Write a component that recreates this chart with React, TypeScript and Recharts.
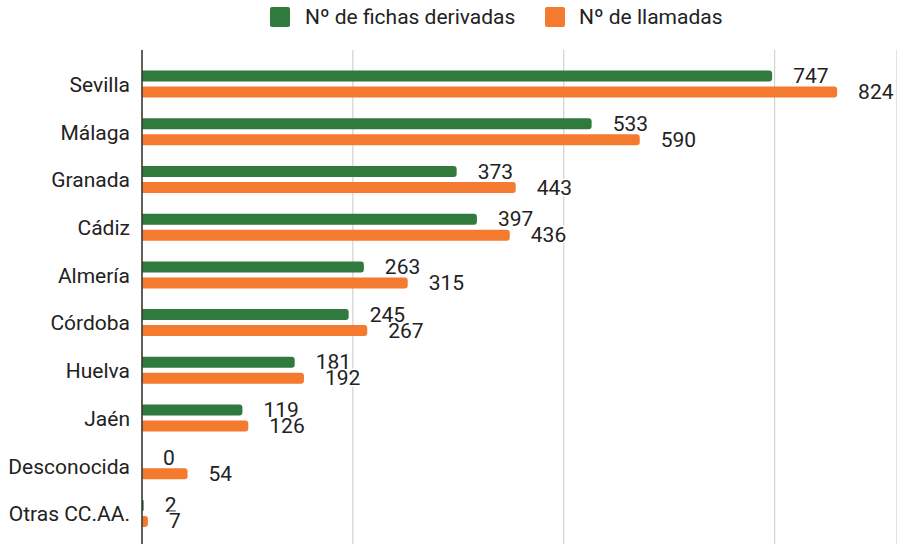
import React from 'react';
import { BarChart, Bar, XAxis, YAxis, CartesianGrid, Legend, LabelList } from 'recharts';

const categories = ['Sevilla', 'Málaga', 'Granada', 'Cádiz', 'Almería', 'Córdoba', 'Huelva', 'Jaén', 'Desconocida', 'Otras CC.AA.'];
const fichas = [747, 533, 373, 397, 263, 245, 181, 119, 0, 2];
const llamadas = [824, 590, 443, 436, 315, 267, 192, 126, 54, 7];
const gridTicks = [0, 250, 500, 750];

const GREEN = '#317a3d';
const ORANGE = '#f37a2e';
const FONT = 'Roboto, "Noto Sans", sans-serif';

const data = categories.map((name, i) => ({ name, fichas: fichas[i], llamadas: llamadas[i] }));

const ValueLabel = (props: any) => {
  const vb = props.viewBox || {};
  const x = Number.isFinite(props.x) ? props.x : vb.x;
  const y = Number.isFinite(props.y) ? props.y : vb.y;
  const width = Number.isFinite(props.width) ? props.width : (Number.isFinite(vb.width) ? vb.width : 0);
  const height = Number.isFinite(props.height) ? props.height : (Number.isFinite(vb.height) ? vb.height : 0);
  const value = props.value;
  if (!Number.isFinite(x) || !Number.isFinite(y)) return null;
  const w = props.value === 0 ? 0 : width;
  return (
    <text
      x={x + w + 21}
      y={y + height / 2}
      dominantBaseline="central"
      textAnchor="start"
      fontFamily={FONT}
      fontSize={21}
      fill="#222"
      stroke="#fff"
      strokeWidth={3}
      paintOrder="stroke"
    >
      {String(value)}
    </text>
  );
};

const LegendContent = () => (
  <div style={{ position: 'relative', height: 34, fontFamily: FONT, fontSize: 21, color: '#222' }}>
    <div style={{ position: 'absolute', left: 270, top: 7, width: 20, height: 20, background: GREEN, borderRadius: 2 }} />
    <div style={{ position: 'absolute', left: 305, top: 3, lineHeight: '28px', whiteSpace: 'nowrap' }}>Nº de fichas derivadas</div>
    <div style={{ position: 'absolute', left: 545, top: 7, width: 20, height: 20, background: ORANGE, borderRadius: 2 }} />
    <div style={{ position: 'absolute', left: 579, top: 3, lineHeight: '28px', whiteSpace: 'nowrap' }}>Nº de llamadas</div>
  </div>
);

export default function App() {
  return (
    <div style={{ position: 'absolute', left: 0, top: 0, width: 897, height: 544, background: '#fff' }}>
      <BarChart
        width={897}
        height={544}
        data={data}
        layout="vertical"
        margin={{ top: 16, right: 0, bottom: 0, left: 0 }}
        barSize={11}
        barGap={5}
      >
        <CartesianGrid horizontal={false} stroke="#c8c8c8" strokeWidth={1} />
        <XAxis type="number" domain={[0, 895]} ticks={gridTicks} hide />
        <YAxis
          type="category"
          dataKey="name"
          width={142}
          padding={{ top: 10.6, bottom: 6.4 }}
          axisLine={{ stroke: '#333', strokeWidth: 1.5 }}
          tickLine={false}
          tickSize={0}
          tickMargin={12}
          tick={{ fill: '#222', fontSize: 21, fontFamily: FONT }}
          interval={0}
        />
        <Legend verticalAlign="top" wrapperStyle={{ top: 0, left: 0, width: 897, height: 34 }} content={<LegendContent />} />
        <Bar dataKey="fichas" name="Nº de fichas derivadas" fill={GREEN} radius={[0, 3, 3, 0]} minPointSize={0.01} isAnimationActive={false}>
          <LabelList dataKey="fichas" content={<ValueLabel />} />
        </Bar>
        <Bar dataKey="llamadas" name="Nº de llamadas" fill={ORANGE} radius={[0, 3, 3, 0]} isAnimationActive={false}>
          <LabelList dataKey="llamadas" content={<ValueLabel />} />
        </Bar>
      </BarChart>
    </div>
  );
}
